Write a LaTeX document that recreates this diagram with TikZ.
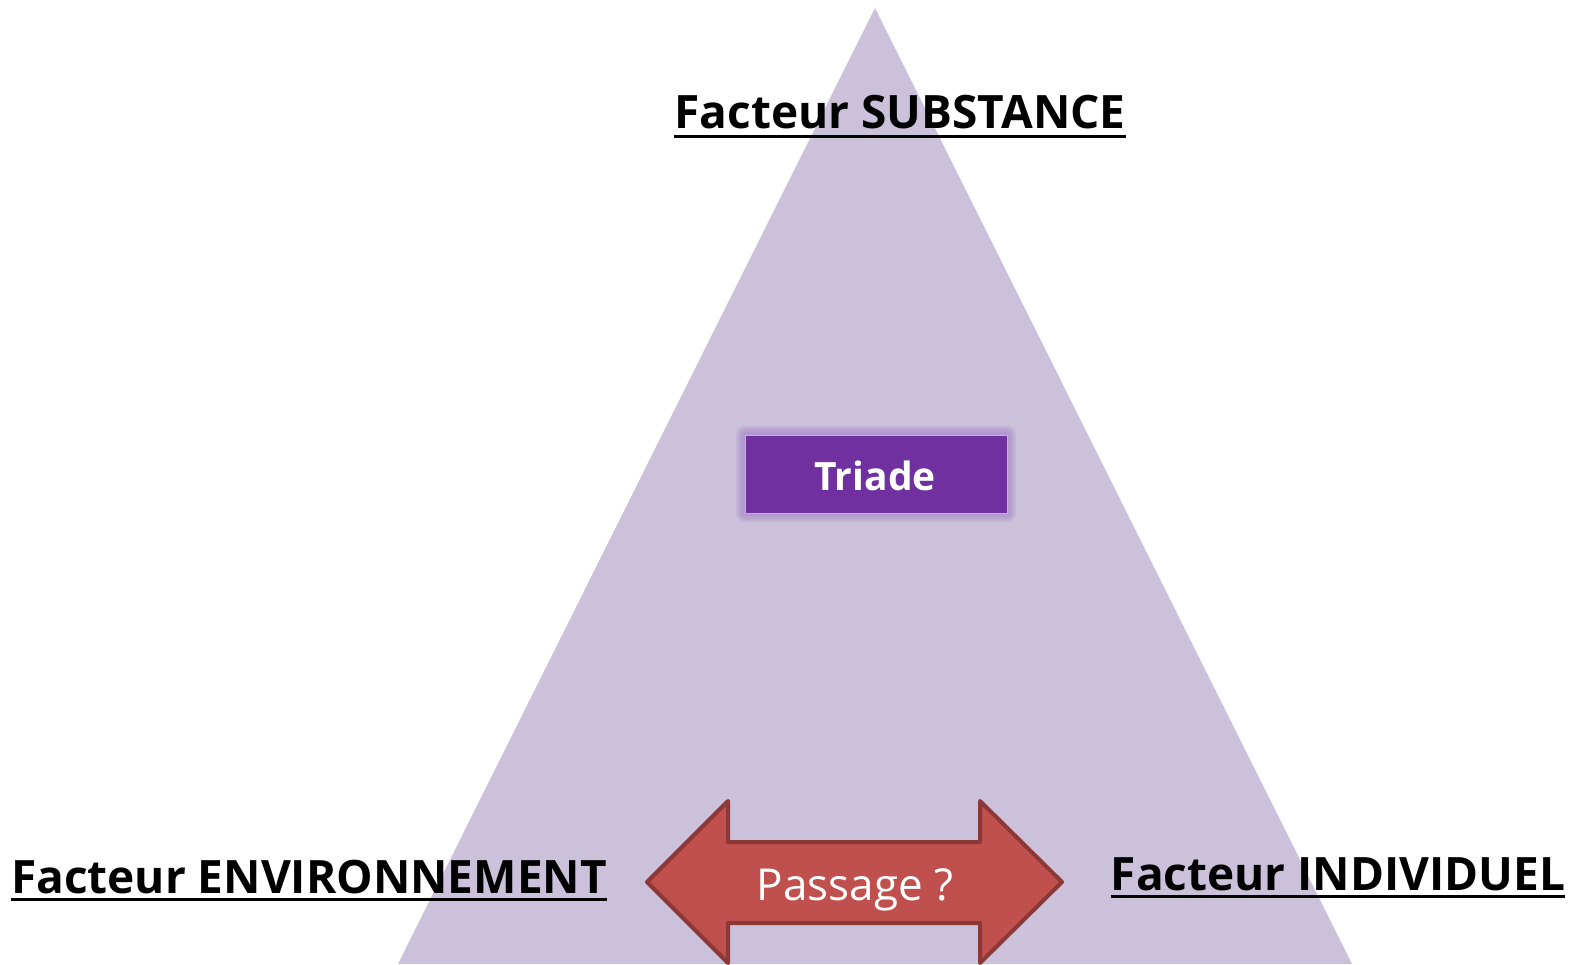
\documentclass[tikz,border=0pt]{standalone}
\usepackage{fontspec}
\setmainfont{Open Sans}
\definecolor{trifill}{HTML}{CCC1DA}
\definecolor{triadefill}{HTML}{7030A0}
\definecolor{glowc}{HTML}{9B7CC6}
\definecolor{arrowfill}{HTML}{C0504D}
\definecolor{arrowdraw}{HTML}{8C3836}
\tikzset{
  factor/.style={inner sep=0pt, font=\fontsize{46}{50}\selectfont\bfseries, text=black},
  uline/.style={line width=3pt, black},
  triadebox/.style={fill=triadefill, draw=glowc!60, line width=1pt, minimum width=262pt, minimum height=78pt, inner sep=0pt},
  triadetext/.style={inner sep=0pt, text=white, font=\fontsize{39}{43}\selectfont\bfseries},
  passagearrow/.style={fill=arrowfill, draw=arrowdraw, line width=4pt, line join=round},
  passagetext/.style={inner sep=0pt, text=white, font=\fontsize{44}{48}\selectfont}
}
\begin{document}
\begin{tikzpicture}[x=1pt, y=-1pt]
\useasboundingbox (0,0) rectangle (1570,964);
% triangle
\coordinate (apex) at (875,8);
\coordinate (bl) at (398,964);
\coordinate (br) at (1352,964);
\fill[trifill] (apex) -- (br) -- (bl) -- cycle;
% glow of Triade
\foreach \i in {9,7,5,3} {
  \fill[glowc, opacity=0.18, rounded corners=\i pt] ({745-\i},{435-\i}) rectangle ({1007+\i},{513+\i});
}
\node[triadebox] (triade) at (876,474) {};
\node[triadetext, anchor=base] (triadetxt) at (875,490) {Triade};
% double arrow
\draw[passagearrow] (647,882) -- (728,801) -- (728,842) -- (980,842) -- (980,801) -- (1062,882)
  -- (980,963) -- (980,923) -- (728,923) -- (728,963) -- cycle;
\node[passagetext, anchor=base] (passage) at (855,900) {Passage ?};
% labels
\node[factor, anchor=base] (subst) at (900,128) {Facteur SUBSTANCE};
\draw[uline] ([yshift=-8pt]subst.base west) -- ([yshift=-8pt]subst.base east);
\node[factor, anchor=base] (env) at (309,893) {Facteur ENVIRONNEMENT};
\draw[uline] ([yshift=-6pt]env.base west) -- ([yshift=-6pt]env.base east);
\node[factor, anchor=base] (indiv) at (1338,890) {Facteur INDIVIDUEL};
\draw[uline] ([yshift=-6pt]indiv.base west) -- ([yshift=-6pt]indiv.base east);
\end{tikzpicture}
\end{document}
